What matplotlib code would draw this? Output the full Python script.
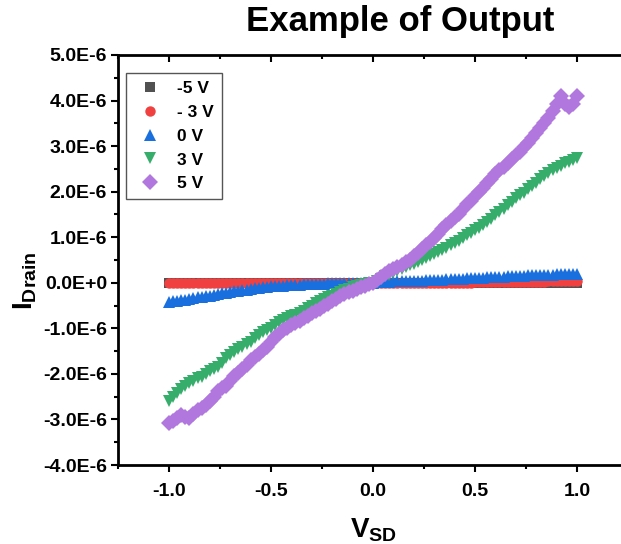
import matplotlib
matplotlib.use('Agg')
import matplotlib.pyplot as plt
from matplotlib.ticker import FuncFormatter, MultipleLocator
import numpy as np

plt.rcParams['font.family'] = ['Liberation Sans', 'DejaVu Sans']
plt.rcParams['font.weight'] = 'bold'
plt.rcParams['axes.unicode_minus'] = False
plt.rcParams['mathtext.fontset'] = 'custom'
plt.rcParams['mathtext.rm'] = 'Liberation Sans'
plt.rcParams['mathtext.bf'] = 'Liberation Sans:bold'

# sweep of V_SD (V), step 0.02
vsd = np.round(np.arange(-1.0, 1.0001, 0.02), 2)

# drain current in units of 1E-6 A
i_m5 = [0.00] * 101
i_m3 = [0.00, 0.00, 0.00, 0.00, 0.00, 0.00, 0.00, 0.00, 0.00, 0.00,
        0.00, 0.00, 0.00, 0.00, 0.00, 0.00, 0.00, 0.00, 0.00, 0.00,
        0.00, 0.00, 0.00, 0.00, 0.00, 0.00, 0.00, 0.00, 0.00, 0.00,
        0.00, 0.00, 0.00, 0.00, 0.00, 0.00, 0.00, 0.00, 0.00, 0.00,
        0.00, 0.00, 0.00, 0.00, 0.00, 0.00, 0.00, 0.00, 0.00, 0.00,
        0.00, 0.00, 0.00, 0.00, 0.00, 0.00, 0.00, 0.00, 0.00, 0.00,
        0.00, 0.00, 0.00, 0.00, 0.00, 0.00, 0.00, 0.00, 0.00, 0.00,
        0.00, 0.00, 0.00, 0.00, 0.00, 0.01, 0.01, 0.01, 0.01, 0.01,
        0.01, 0.01, 0.01, 0.01, 0.01, 0.02, 0.02, 0.02, 0.02, 0.02,
        0.02, 0.02, 0.02, 0.03, 0.03, 0.03, 0.03, 0.03, 0.03, 0.03, 0.03]
i_0 = [-0.42, -0.41, -0.39, -0.38, -0.37, -0.35, -0.34, -0.32, -0.31, -0.29,
       -0.28, -0.26, -0.25, -0.23, -0.22, -0.20, -0.19, -0.17, -0.16, -0.15,
       -0.13, -0.12, -0.11, -0.10, -0.09, -0.08, -0.07, -0.07, -0.06, -0.05,
       -0.05, -0.04, -0.04, -0.03, -0.03, -0.03, -0.02, -0.02, -0.02, -0.01,
       -0.01, -0.01, -0.01, -0.01, 0.00, 0.00, 0.00, 0.00, 0.00, 0.00,
       0.00, 0.01, 0.01, 0.02, 0.02, 0.03, 0.03, 0.03, 0.04, 0.04,
       0.05, 0.05, 0.05, 0.06, 0.06, 0.07, 0.07, 0.07, 0.08, 0.08,
       0.09, 0.09, 0.09, 0.10, 0.10, 0.11, 0.11, 0.11, 0.12, 0.12,
       0.13, 0.13, 0.13, 0.14, 0.14, 0.15, 0.15, 0.15, 0.16, 0.16,
       0.17, 0.17, 0.17, 0.18, 0.18, 0.19, 0.19, 0.19, 0.20, 0.20, 0.20]
i_3 = [-2.60, -2.50, -2.42, -2.33, -2.26, -2.20, -2.15, -2.10, -2.06, -2.00,
       -1.94, -1.90, -1.84, -1.76, -1.66, -1.58, -1.52, -1.46, -1.40, -1.34,
       -1.29, -1.22, -1.15, -1.09, -1.04, -0.99, -0.93, -0.87, -0.82, -0.78,
       -0.74, -0.70, -0.66, -0.61, -0.56, -0.50, -0.45, -0.40, -0.36, -0.32,
       -0.28, -0.24, -0.20, -0.16, -0.13, -0.10, -0.08, -0.05, -0.03, -0.01,
       0.00, 0.04, 0.09, 0.14, 0.18, 0.22, 0.26, 0.30, 0.34, 0.38,
       0.42, 0.46, 0.51, 0.55, 0.59, 0.63, 0.68, 0.72, 0.77, 0.82,
       0.87, 0.92, 0.98, 1.04, 1.10, 1.16, 1.21, 1.27, 1.34, 1.41,
       1.49, 1.56, 1.63, 1.70, 1.78, 1.86, 1.92, 1.98, 2.05, 2.12,
       2.20, 2.27, 2.34, 2.41, 2.47, 2.52, 2.57, 2.62, 2.66, 2.70, 2.74]
i_5 = [-3.08, -3.03, -2.97, -2.90, -2.94, -2.97, -2.88, -2.80, -2.74, -2.68,
       -2.60, -2.50, -2.38, -2.32, -2.26, -2.15, -2.04, -1.97, -1.90, -1.80,
       -1.70, -1.64, -1.56, -1.48, -1.40, -1.30, -1.20, -1.12, -1.04, -0.99,
       -0.93, -0.88, -0.83, -0.78, -0.72, -0.67, -0.62, -0.57, -0.51, -0.46,
       -0.40, -0.35, -0.30, -0.25, -0.21, -0.17, -0.13, -0.09, -0.06, -0.03,
       0.00, 0.06, 0.13, 0.20, 0.25, 0.30, 0.35, 0.40, 0.45, 0.51,
       0.58, 0.66, 0.74, 0.82, 0.90, 0.99, 1.08, 1.18, 1.27, 1.36,
       1.44, 1.52, 1.62, 1.72, 1.80, 1.90, 2.00, 2.09, 2.18, 2.28,
       2.38, 2.47, 2.55, 2.63, 2.72, 2.80, 2.88, 2.97, 3.07, 3.18,
       3.29, 3.40, 3.50, 3.62, 3.78, 3.93, 4.10, 3.92, 3.86, 3.93, 4.10]

labels = ['-5 V', '- 3 V', '0 V', '3 V', '5 V']
colors = ['#515151', '#F14040', '#1A6FDF', '#37AD6B', '#B177DE']
markers = ['s', 'o', '^', 'v', 'D']
sizes = [7.5, 7.5, 8, 8.5, 8]

fig = plt.figure(figsize=(6.21, 5.44), dpi=100)
ax = fig.add_axes([0.190, 0.1452, 0.8213, 0.7537])

for vals, lab, c, m, s in zip([i_m5, i_m3, i_0, i_3, i_5], labels, colors, markers, sizes):
    ax.plot(vsd, np.array(vals) * 1e-6, linestyle='none', marker=m, ms=s,
            color=c, markeredgewidth=0, label=lab)

ax.set_xlim(-1.25, 1.25)
ax.set_ylim(-4e-6, 5e-6)
ax.xaxis.set_major_locator(MultipleLocator(0.5))
ax.xaxis.set_minor_locator(MultipleLocator(0.25))
ax.yaxis.set_major_locator(MultipleLocator(1e-6))
ax.yaxis.set_minor_locator(MultipleLocator(0.5e-6))


def sci_fmt(v, pos):
    n = round(v * 1e6, 1)
    if n == 0:
        return '0.0E+0'
    return '{:.1f}E-6'.format(n)


ax.yaxis.set_major_formatter(FuncFormatter(sci_fmt))

for sp in ax.spines.values():
    sp.set_linewidth(2)
ax.tick_params(axis='both', which='major', length=5, width=1.5, labelsize=14)
ax.tick_params(axis='both', which='minor', length=3, width=1.5)
ax.tick_params(axis='x', which='both', top=True, direction='out')
ax.tick_params(axis='x', which='major', pad=8)
ax.tick_params(axis='y', which='both', right=True)
ax.tick_params(axis='y', which='major', pad=3)
for t in ax.xaxis.get_major_ticks() + ax.xaxis.get_minor_ticks():
    t.tick2line.set_marker(3)  # top ticks point down into the axes
for t in ax.yaxis.get_major_ticks() + ax.yaxis.get_minor_ticks():
    t.tick2line.set_marker(0)
for lab in ax.get_xticklabels() + ax.get_yticklabels():
    lab.set_fontweight('bold')

ax.set_xlabel(r'$\mathbf{V}_{\mathbf{SD}}$', fontsize=20)
ax.set_ylabel(r'$\mathbf{I}_{\mathbf{Drain}}$', fontsize=20)
ax.xaxis.set_label_coords(0.5, -0.125)
ax.yaxis.set_label_coords(-0.155, 0.45)

leg = ax.legend(loc='upper left', bbox_to_anchor=(0.016, 0.956), fontsize=12.5,
                frameon=True, fancybox=False, framealpha=1, edgecolor='#555555',
                handletextpad=0.6, labelspacing=0.5, borderpad=0.45,
                borderaxespad=0, handlelength=1.9)
leg.get_frame().set_linewidth(1)
for t in leg.get_texts():
    t.set_fontweight('bold')

fig.text(400 / 621, 1 - 21 / 544, 'Example of Output', ha='center', va='center',
         fontsize=25, fontweight='bold')

plt.savefig('out.png', dpi=100)
